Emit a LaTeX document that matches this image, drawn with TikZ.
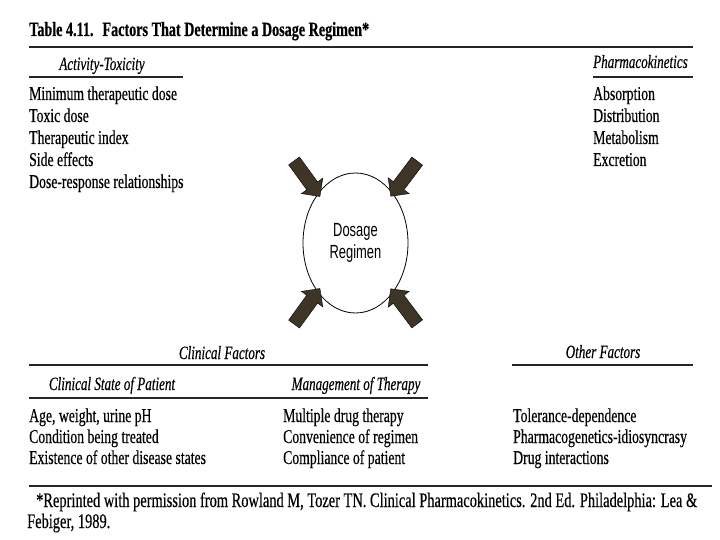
\documentclass[tikz,border=0pt]{standalone}
\usepackage{fontspec}
\setmainfont{Liberation Serif}[FakeStretch=0.70, FakeBold=0.4]
\newfontfamily\circfont{Liberation Sans}[FakeStretch=0.68]
\usetikzlibrary{
    shapes.geometric,
    shapes.arrows,
    positioning
}
\definecolor{arrowbrown}{HTML}{3F3526}
\tikzset{
    tabtitle/.style={anchor=base west, inner sep=0pt, font=\fontsize{20.2}{22}\selectfont\bfseries},
    colhead/.style={anchor=base, inner sep=0pt, font=\fontsize{18.7}{21}\selectfont\itshape},
    entry/.style={anchor=base west, inner sep=0pt, font=\fontsize{19.6}{22}\selectfont},
    tabrule/.style={line width=1.3pt, black!85},
    bigarrow/.style={single arrow, draw=black, fill=arrowbrown, inner xsep=0pt, inner ysep=6.5pt,
        minimum height=44pt, single arrow head extend=6.5pt, single arrow head indent=0pt}
}

\begin{document}
\begin{tikzpicture}[x=1pt, y=-1pt]
    \useasboundingbox (0, 0) rectangle (720, 540);
    % title
    \node[tabtitle] (ttl) at (29, 36) {Table 4.11.\hspace{9pt}Factors That Determine a Dosage Regimen*};
    \draw[tabrule, line width=1.6pt] (29, 47) -- (693, 47);
    % activity-toxicity
    \node[colhead] (act) at (102, 70) {Activity-Toxicity};
    \draw[tabrule] (29, 77) -- (183, 77);
    \node[entry] (a1) at (29, 100) {Minimum therapeutic dose};
    \node[entry] (a2) at (29, 122) {Toxic dose};
    \node[entry] (a3) at (29, 144) {Therapeutic index};
    \node[entry] (a4) at (29, 166) {Side effects};
    \node[entry] (a5) at (29, 188) {Dose-response relationships};
    % pharmacokinetics
    \node[colhead, anchor=base west] (pk) at (593, 68) {Pharmacokinetics};
    \draw[tabrule] (593, 77) -- (693, 77);
    \node[entry] (p1) at (593, 100) {Absorption};
    \node[entry] (p2) at (593, 122) {Distribution};
    \node[entry] (p3) at (593, 144) {Metabolism};
    \node[entry] (p4) at (593, 166) {Excretion};
    % dosage regimen
    \node[ellipse, draw, line width=0.8pt, minimum width=105pt, minimum height=140pt,
        align=center, font=\circfont\fontsize{19}{22}\selectfont] (dr) at (355.5, 243) {Dosage\\Regimen};
    \node[bigarrow, rotate=-54] (tl) at (305, 176) {};
    \node[bigarrow, rotate=-127] (tr) at (406, 176) {};
    \node[bigarrow, rotate=54] (bl) at (305, 309) {};
    \node[bigarrow, rotate=127] (br) at (406, 309) {};
    % clinical factors
    \node[colhead] (cf) at (222, 359) {Clinical Factors};
    \draw[tabrule] (29, 365) -- (428, 365);
    \node[colhead] (cs) at (112, 390) {Clinical State of Patient};
    \node[colhead] (mt) at (356, 390) {Management of Therapy};
    \draw[tabrule] (29, 398) -- (428, 398);
    \node[entry] (c1) at (29, 422) {Age, weight, urine pH};
    \node[entry] (c2) at (29, 443) {Condition being treated};
    \node[entry] (c3) at (29, 464) {Existence of other disease states};
    \node[entry] (m1) at (283, 422) {Multiple drug therapy};
    \node[entry] (m2) at (283, 443) {Convenience of regimen};
    \node[entry] (m3) at (283, 464) {Compliance of patient};
    % other factors
    \node[colhead] (of) at (603, 358) {Other Factors};
    \draw[tabrule] (512, 365) -- (693, 365);
    \node[entry] (o1) at (513, 422) {Tolerance-dependence};
    \node[entry] (o2) at (513, 443) {Pharmacogenetics-idiosyncrasy};
    \node[entry] (o3) at (513, 464) {Drug interactions};
    % footnote
    \draw[tabrule] (29, 486) -- (712, 486);
    \node[entry, font=\fontsize{20.6}{22}\selectfont] (fn1) at (36, 507)
        {*Reprinted with permission from Rowland M, Tozer TN. Clinical Pharmacokinetics. 2nd Ed. Philadelphia: Lea \&};
    \node[entry, font=\fontsize{20.6}{22}\selectfont] (fn2) at (27, 528) {Febiger, 1989.};
\end{tikzpicture}
\end{document}
